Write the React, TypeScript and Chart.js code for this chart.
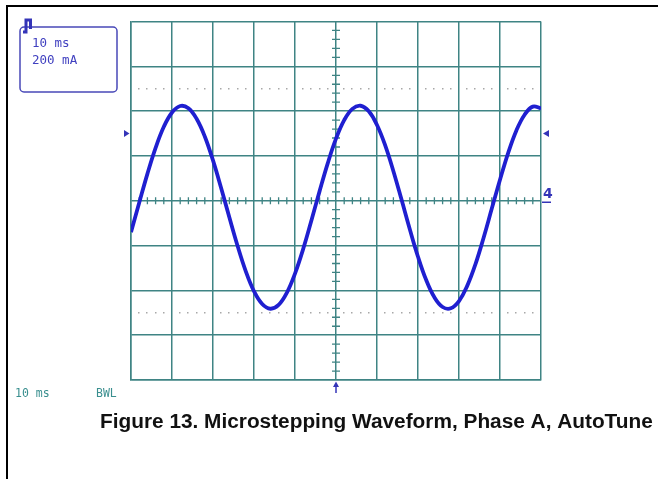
import React, { useEffect, useRef } from "react";
import { Chart, registerables } from "chart.js";

Chart.register(...registerables);

// time axis (ms) and phase A current (mA)
const timeMs = [0, 2, 4, 6, 8, 10, 12, 14, 16, 18, 20, 22, 24, 26, 28, 30, 32, 34, 36, 38, 40, 42, 44, 46, 48, 50, 52, 54, 56, 58, 60, 62, 64, 66, 68, 70, 72, 74, 76, 78, 80, 82, 84, 86, 88, 90, 92, 94, 96, 98, 100];
const currentMa = [-140, -9, 120, 236, 330, 394, 423, 413, 366, 287, 180, 56, -75, -202, -315, -404, -461, -482, -465, -411, -325, -215, -88, 43, 168, 277, 360, 410, 424, 399, 338, 247, 132, 4, -127, -250, -354, -431, -474, -480, -448, -380, -284, -165, -35, 94, 214, 314, 384, 420, 412];

const xTicks = [0, 10, 20, 30, 40, 50, 60, 70, 80, 90, 100];
const yTicks = [-800, -600, -400, -200, 0, 200, 400, 600, 800];
const cursorLevels = [500, -500];
const triggerLevel = 300;
const boxLines = ["10 ms", "200 mA"];
const footerLabels = ["10 ms", "BWL"];
const caption = "Figure 13. Microstepping Waveform, Phase A, AutoTune";

const GRID = "#3f8484";
const BLUE = "#1f1fd0";
const MARK = "#3434b8";

const overlay = {
  id: "scopeOverlay",
  beforeDraw(chart: any) {
    const ctx = chart.ctx;
    ctx.save();
    ctx.fillStyle = "#ffffff";
    ctx.fillRect(0, 0, chart.width, chart.height);
    ctx.restore();
  },
  beforeDatasetsDraw(chart: any) {
    const ctx = chart.ctx;
    const xs = chart.scales.x;
    const ys = chart.scales.y;
    const x0 = xs.getPixelForValue(50);
    const y0 = ys.getPixelForValue(0);
    ctx.save();
    // dotted cursor lines
    ctx.fillStyle = "#a8a8a8";
    for (const lvl of cursorLevels) {
      const yy = ys.getPixelForValue(lvl);
      for (let d = 0; d < 10; d++) {
        for (let k = 1; k <= 4; k++) {
          const xx = xs.getPixelForValue(d * 10 + k * 2);
          ctx.fillRect(Math.round(xx) - 1, Math.round(yy) - 1, 1.5, 1.5);
        }
      }
    }
    // minor ticks on centre axes
    ctx.strokeStyle = GRID;
    ctx.lineWidth = 1.3;
    ctx.beginPath();
    for (let t = 0; t <= 100; t += 2) {
      if (t % 10 === 0) continue;
      const xx = xs.getPixelForValue(t);
      ctx.moveTo(xx, y0 - 3.5);
      ctx.lineTo(xx, y0 + 3.5);
    }
    for (let v = -800; v <= 800; v += 40) {
      if (v % 200 === 0) continue;
      const yy = ys.getPixelForValue(v);
      ctx.moveTo(x0 - 4, yy);
      ctx.lineTo(x0 + 4, yy);
    }
    ctx.stroke();
    ctx.restore();
  },
  afterDraw(chart: any) {
    const ctx = chart.ctx;
    const xs = chart.scales.x;
    const ys = chart.scales.y;
    const area = chart.chartArea;
    ctx.save();
    // outer frame
    ctx.strokeStyle = "#000000";
    ctx.lineWidth = 2;
    ctx.beginPath();
    ctx.moveTo(7, chart.height);
    ctx.lineTo(7, 6);
    ctx.lineTo(chart.width, 6);
    ctx.stroke();

    // trigger level markers
    const ty = ys.getPixelForValue(triggerLevel);
    ctx.fillStyle = MARK;
    ctx.beginPath();
    ctx.moveTo(area.left - 7, ty - 3.5);
    ctx.lineTo(area.left - 7, ty + 3.5);
    ctx.lineTo(area.left - 1.5, ty);
    ctx.closePath();
    ctx.fill();
    ctx.beginPath();
    ctx.moveTo(area.right + 8, ty - 3.5);
    ctx.lineTo(area.right + 8, ty + 3.5);
    ctx.lineTo(area.right + 2, ty);
    ctx.closePath();
    ctx.fill();

    // channel ground marker "4"
    const gy = ys.getPixelForValue(0);
    ctx.font = "bold 14px 'DejaVu Sans'";
    ctx.textBaseline = "alphabetic";
    ctx.textAlign = "left";
    ctx.fillText("4", area.right + 2, gy - 3);
    ctx.strokeStyle = MARK;
    ctx.lineWidth = 1.5;
    ctx.beginPath();
    ctx.moveTo(area.right + 1, gy + 1.5);
    ctx.lineTo(area.right + 10, gy + 1.5);
    ctx.stroke();

    // trigger position arrow
    const ax = xs.getPixelForValue(50);
    ctx.beginPath();
    ctx.moveTo(ax, area.bottom + 5);
    ctx.lineTo(ax, area.bottom + 13);
    ctx.stroke();
    ctx.beginPath();
    ctx.moveTo(ax, area.bottom + 1.5);
    ctx.lineTo(ax - 3, area.bottom + 7);
    ctx.lineTo(ax + 3, area.bottom + 7);
    ctx.closePath();
    ctx.fill();

    // settings box
    ctx.strokeStyle = "#4848b8";
    ctx.lineWidth = 1.5;
    ctx.beginPath();
    (ctx as any).roundRect(20, 27, 97, 65, 4);
    ctx.stroke();
    // trigger icon
    ctx.strokeStyle = MARK;
    ctx.lineWidth = 3;
    ctx.beginPath();
    ctx.moveTo(23, 32);
    ctx.lineTo(26, 32);
    ctx.lineTo(26, 20);
    ctx.lineTo(30.5, 20);
    ctx.lineTo(30.5, 29);
    ctx.stroke();

    ctx.fillStyle = "#4040c0";
    ctx.font = "12.5px 'DejaVu Sans Mono'";
    ctx.fillText(boxLines[0], 32, 47);
    ctx.fillText(boxLines[1], 32, 64);

    // footer labels
    ctx.fillStyle = "#3a8f8f";
    ctx.font = "11.5px 'DejaVu Sans Mono'";
    ctx.fillText(footerLabels[0], 15, 397);
    ctx.fillText(footerLabels[1], 96, 397);

    // caption
    ctx.fillStyle = "#111111";
    ctx.font = "bold 17px 'Liberation Sans', Arial, sans-serif";
    const w = ctx.measureText(caption).width;
    const size = (17 * 553) / w;
    ctx.font = `bold ${size.toFixed(2)}px 'Liberation Sans', Arial, sans-serif`;
    ctx.fillText(caption, 100, 428);
    ctx.restore();
  },
};

export default function App() {
  const ref = useRef<HTMLCanvasElement | null>(null);
  useEffect(() => {
    if (!ref.current) return;
    const points = timeMs.map((t, i) => ({ x: t, y: currentMa[i] }));
    const chart = new Chart(ref.current, {
      type: "line",
      data: {
        datasets: [
          {
            data: points,
            borderColor: BLUE,
            borderWidth: 3.8,
            pointRadius: 0,
            tension: 0.4,
            fill: false,
          },
        ],
      },
      options: {
        animation: false,
        responsive: false,
        maintainAspectRatio: false,
        layout: { padding: { left: 131, right: 117, top: 21.5, bottom: 99 } },
        plugins: { legend: { display: false }, tooltip: { enabled: false }, title: { display: false } },
        scales: {
          x: {
            type: "linear",
            min: 0,
            max: 100,
            afterBuildTicks: (s: any) => {
              s.ticks = xTicks.map((v) => ({ value: v }));
            },
            ticks: { display: false },
            grid: { color: GRID, lineWidth: 1.5, drawTicks: false },
            border: { display: true, color: GRID, width: 1.5 },
          },
          y: {
            type: "linear",
            min: -800,
            max: 800,
            afterBuildTicks: (s: any) => {
              s.ticks = yTicks.map((v) => ({ value: v }));
            },
            ticks: { display: false },
            grid: { color: GRID, lineWidth: 1.5, drawTicks: false },
            border: { display: true, color: GRID, width: 1.5 },
          },
        },
      },
      plugins: [overlay],
    });
    return () => chart.destroy();
  }, []);
  return (
    <div style={{ position: "absolute", left: 0, top: 0, width: 658, height: 479 }}>
      <canvas ref={ref} width={658} height={479} style={{ display: "block" }} />
    </div>
  );
}
